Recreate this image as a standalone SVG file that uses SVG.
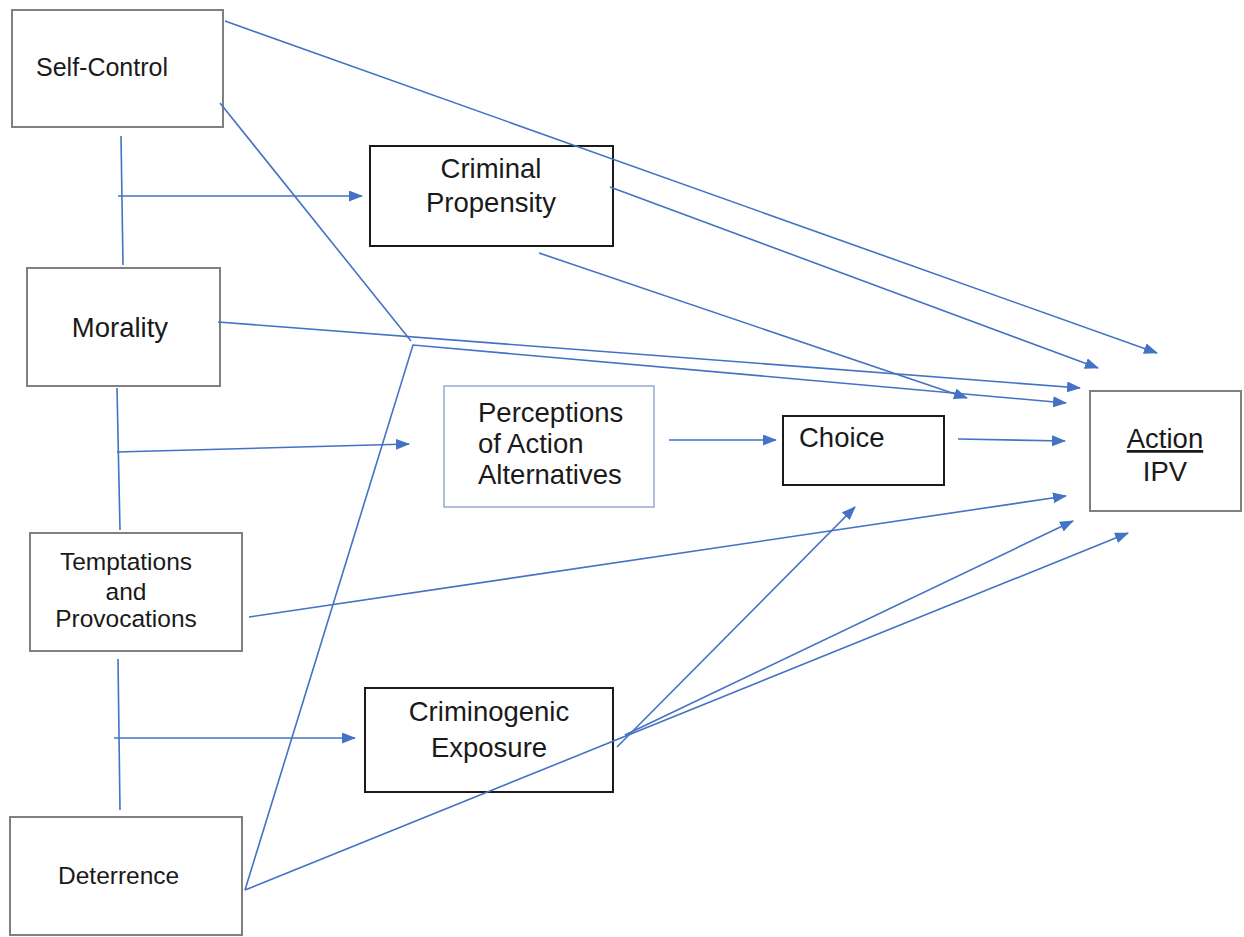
<svg xmlns="http://www.w3.org/2000/svg" width="1244" height="937" viewBox="0 0 1244 937">
<defs>
<marker id="ah" markerUnits="userSpaceOnUse" markerWidth="16" markerHeight="12" refX="13" refY="5.5" orient="auto">
<path d="M0,0 L14,5.5 L0,11 z" fill="#4472c4"/>
</marker>
<style>
.bg{fill:#fff}
.g{fill:#fff;stroke:#808080;stroke-width:2}
.k{fill:#fff;stroke:#1a1a1a;stroke-width:2}
.b{fill:#fff;stroke:#9aa9d4;stroke-width:1.5}
.t{font-family:"Liberation Sans",Arial,sans-serif;fill:#1a1a1a}
.s24{font-size:24.5px}
.s27{font-size:27.5px}
.c{stroke:#4472c4;stroke-width:1.6;fill:none}
.a{marker-end:url(#ah)}
</style>
</defs>
<rect class="bg" x="0" y="0" width="1244" height="937"/>

<g id="self-control">
<rect class="g" x="12" y="10" width="211" height="117"/>
<text class="t" x="36" y="76" style="font-size:25px">Self-Control</text>
</g>

<g id="morality">
<rect class="g" x="27" y="268" width="193" height="118"/>
<text class="t s27" x="120" y="337" text-anchor="middle">Morality</text>
</g>

<g id="temptations">
<rect class="g" x="30" y="533" width="212" height="118"/>
<text class="t s24" text-anchor="middle"><tspan x="126" y="570">Temptations</tspan><tspan x="126" y="600">and</tspan><tspan x="126" y="627">Provocations</tspan></text>
</g>

<g id="deterrence">
<rect class="g" x="10" y="817" width="232" height="118"/>
<text class="t s24" x="58" y="884">Deterrence</text>
</g>

<g id="criminal-propensity">
<rect class="k" x="370" y="146" width="243" height="100"/>
<text class="t s27" text-anchor="middle"><tspan x="491" y="178">Criminal</tspan><tspan x="491" y="212">Propensity</tspan></text>
</g>

<g id="perceptions">
<rect class="b" x="444" y="386" width="210" height="121"/>
<text class="t s27"><tspan x="478" y="422">Perceptions</tspan><tspan x="478" y="453">of Action</tspan><tspan x="478" y="484">Alternatives</tspan></text>
</g>

<g id="choice">
<rect class="k" x="783" y="416" width="161" height="69"/>
<text class="t s27" x="799" y="447">Choice</text>
</g>

<g id="criminogenic-exposure">
<rect class="k" x="365" y="688" width="248" height="104"/>
<text class="t s27" text-anchor="middle"><tspan x="489" y="721">Criminogenic</tspan><tspan x="489" y="757">Exposure</tspan></text>
</g>

<g id="action-ipv">
<rect class="g" x="1090" y="391" width="151" height="120"/>
<text class="t s27" text-anchor="middle"><tspan x="1165" y="448" text-decoration="underline">Action</tspan><tspan x="1165" y="481">IPV</tspan></text>
</g>

<g id="connectors">
<line class="c" x1="121" y1="136" x2="123" y2="265"/>
<line class="c a" x1="118" y1="196" x2="362" y2="196"/>
<line class="c" x1="117" y1="388" x2="120" y2="530"/>
<line class="c a" x1="117" y1="452" x2="409" y2="444"/>
<line class="c" x1="118" y1="659" x2="120" y2="810"/>
<line class="c a" x1="114" y1="738" x2="355" y2="738"/>
<line class="c a" x1="225" y1="21" x2="1157" y2="353"/>
<line class="c" x1="220" y1="103" x2="411" y2="341"/>
<line class="c a" x1="610" y1="187" x2="1098" y2="368"/>
<line class="c a" x1="539" y1="253" x2="967" y2="398"/>
<line class="c a" x1="218" y1="322" x2="1080" y2="388"/>
<polyline class="c a" points="245,890 413,345 1066,403"/>
<line class="c a" x1="669" y1="440" x2="776" y2="440"/>
<line class="c a" x1="958" y1="439" x2="1065" y2="441"/>
<line class="c a" x1="249" y1="617" x2="1066" y2="496"/>
<line class="c a" x1="617" y1="747" x2="855" y2="507"/>
<line class="c a" x1="625" y1="735" x2="1073" y2="521"/>
<line class="c a" x1="245" y1="890" x2="1128" y2="533"/>
</g>
</svg>
